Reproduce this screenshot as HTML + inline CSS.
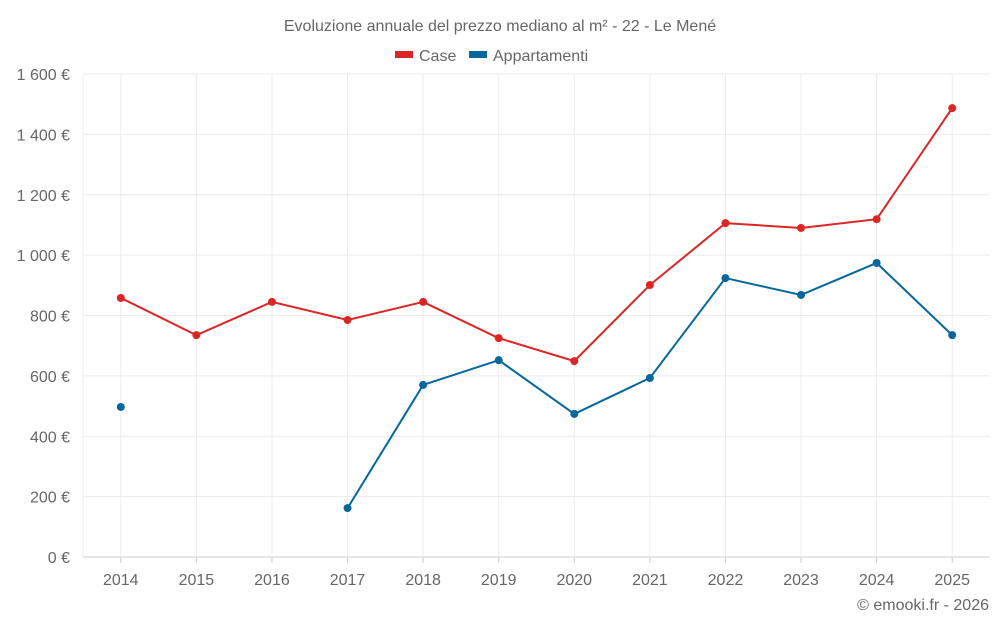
<!DOCTYPE html>
<html><head><meta charset="utf-8"><style>
body{margin:0;background:#fff;font-family:"Liberation Sans",sans-serif;}
svg text{font-family:"Liberation Sans",sans-serif;fill:#666;}
</style></head><body>
<svg id="chart" width="1000" height="625" xmlns="http://www.w3.org/2000/svg">
<text x="500" y="31" text-anchor="middle" font-size="16">Evoluzione annuale del prezzo mediano al m² - 22 - Le Mené</text>
<g>
<g><rect x="395" y="51" width="18" height="7" fill="#dc2626"/><text x="419" y="61" font-size="16">Case</text></g>
<g><rect x="469" y="51" width="18" height="7" fill="#05679c"/><text x="493" y="61" font-size="16">Appartamenti</text></g>
</g>
<g id="grid"></g>
<g id="axes"></g>
<g id="series"></g>
<text x="989" y="610" text-anchor="end" font-size="16">© emooki.fr - 2026</text>
</svg>
<script>
const years=["2014","2015","2016","2017","2018","2019","2020","2021","2022","2023","2024","2025"];
const caseValues=[858,735,845,785,845,725,649,901,1106,1090,1119,1487];
const apptValues=[497,null,null,162,570,652,474,593,924,868,974,735];
const yTicks=[0,200,400,600,800,1000,1200,1400,1600];
const yTickLabels=["0 €","200 €","400 €","600 €","800 €","1 000 €","1 200 €","1 400 €","1 600 €"];
const NS="http://www.w3.org/2000/svg";
const L=83,R=990,T=74,B=557;
const bw=(R-L)/years.length;
const x=i=>L+bw*(i+0.5);
const y=v=>B-(v/1600)*(B-T);
function mk(tag,attrs,parent){const e=document.createElementNS(NS,tag);for(const k in attrs)e.setAttribute(k,attrs[k]);parent.appendChild(e);return e;}
const grid=document.getElementById('grid'),axes=document.getElementById('axes'),ser=document.getElementById('series');
yTicks.forEach((t,i)=>{
 const l=mk('line',{x1:L,x2:R,y1:y(t),y2:y(t),stroke:i===0?'#ccc':'#ececec'},grid);
 
 
 const tx=mk('text',{x:70,y:y(t)+6,'text-anchor':'end','font-size':16},axes);
 tx.textContent=yTickLabels[i];
 
 
});
const la=mk('line',{x1:L,x2:L,y1:T,y2:B,stroke:'#ececec'},grid);


years.forEach((yr,i)=>{
 const l=mk('line',{x1:x(i),x2:x(i),y1:T,y2:B,stroke:'#ececec'},grid);
 
 
 const tk=mk('line',{x1:x(i),x2:x(i),y1:B,y2:B+6,stroke:'#ccc'},axes);
 
 
 const tx=mk('text',{x:x(i),y:585,'text-anchor':'middle','font-size':16},axes);
 tx.textContent=yr;
 
 
});
function drawSeries(vals,color,name){
 let segs=[],cur=[];
 vals.forEach((v,i)=>{if(v==null){if(cur.length)segs.push(cur);cur=[];}else cur.push([x(i),y(v)]);});
 if(cur.length)segs.push(cur);
 segs.forEach(s=>{if(s.length>1){const p=mk('polyline',{points:s.map(p=>p.join(',')).join(' '),fill:'none',stroke:color,'stroke-width':2},ser);
  
  }});
 vals.forEach((v,i)=>{if(v==null)return;const c=mk('circle',{cx:x(i),cy:y(v),r:4,fill:color},ser);
  
  });
}
drawSeries(caseValues,'#dc2626','case');
drawSeries(apptValues,'#05679c','appartamenti');
</script>
</body></html>
